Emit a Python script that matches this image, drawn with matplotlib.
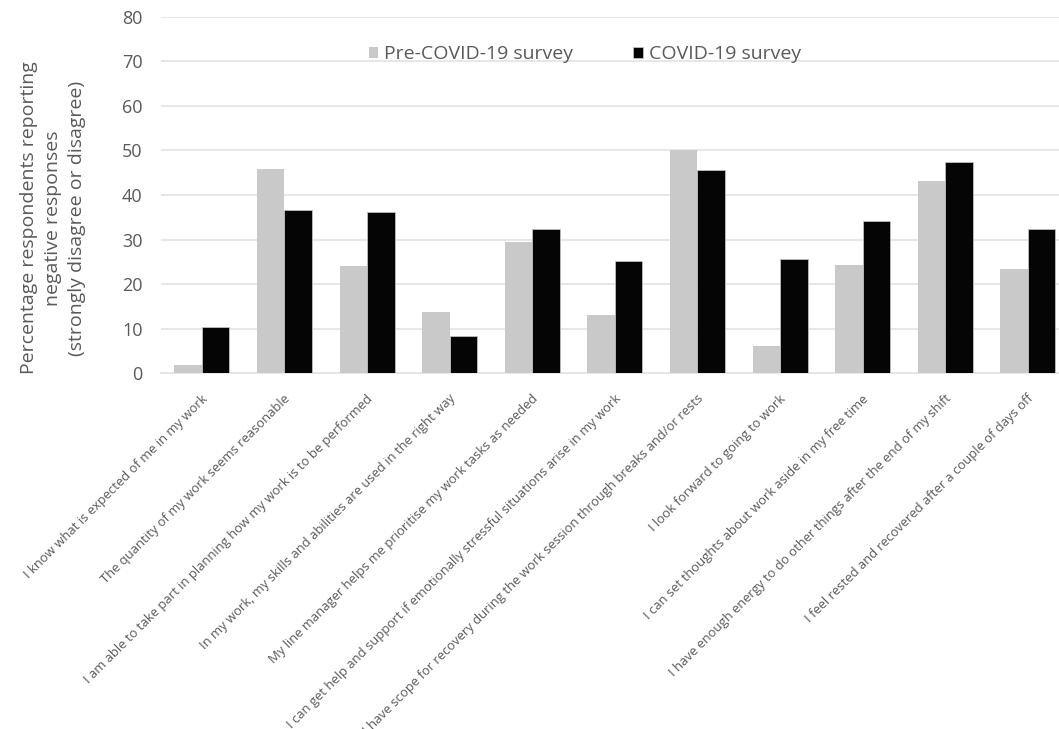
import numpy as np
import matplotlib
matplotlib.use("Agg")
import matplotlib.pyplot as plt
import matplotlib.transforms as mtransforms

plt.rcParams['font.family'] = ['Open Sans', 'DejaVu Sans']

statements = [
    "I know what is expected of me in my work",
    "The quantity of my work seems reasonable",
    "I am able to take part in planning how my work is to be performed",
    "In my work, my skills and abilities are used in the right way",
    "My line manager helps me prioritise my work tasks as needed",
    "I can get help and support if emotionally stressful situations arise in my work",
    "I have scope for recovery during the work session through breaks and/or rests",
    "I look forward to going to work",
    "I can set thoughts about work aside in my free time",
    "I have enough energy to do other things after the end of my shift",
    "I feel rested and recovered after a couple of days off",
]
pre_covid = [1.8, 45.9, 24.1, 13.7, 29.4, 13.1, 50.0, 6.1, 24.3, 43.2, 23.4]
covid = [10.3, 36.7, 36.2, 8.3, 32.3, 25.1, 45.6, 25.7, 34.2, 47.3, 32.3]

text_col = "#595959"
fig = plt.figure(figsize=(10.59, 7.29), dpi=100)
# plot area runs a little past the right edge of the canvas
ax = fig.add_axes([0.1516, 0.488, 0.858, 0.489])

x = np.arange(len(statements))
w = 0.333
ax.bar(x - w / 2, pre_covid, w, color="#c9c9c9", label="Pre-COVID-19 survey", zorder=3)
ax.bar(x + w / 2, covid, w, color="#050505", edgecolor="#bfbfbf", linewidth=0.6,
       label="COVID-19 survey", zorder=3)

ax.set_xlim(-0.5, len(statements) - 0.5)
ax.set_ylim(0, 80)
ax.set_yticks(range(0, 81, 10))
ax.grid(axis="y", color="#e3e3e3", linewidth=1.2, zorder=0)
for s in ["top", "right", "left"]:
    ax.spines[s].set_visible(False)
ax.spines["bottom"].set_color("#e3e3e3")
ax.spines["bottom"].set_linewidth(1.2)
ax.tick_params(axis="both", length=0, colors=text_col)
ax.tick_params(axis="y", labelsize=13, pad=13)

ax.set_xticks(x)
ax.set_xticklabels(statements, rotation=45, ha="right", va="center",
                   rotation_mode="anchor", fontsize=9.4, color=text_col)
ax.tick_params(axis="x", pad=17)
shift = mtransforms.ScaledTranslation(4 / 100, 0, fig.dpi_scale_trans)
for lab in ax.get_xticklabels():
    lab.set_transform(lab.get_transform() + shift)

# y axis title placed on the figure so it can sit a bit lower than the axes centre
fig.text(0.050, 0.701,
         "Percentage respondents reporting\nnegative responses\n(strongly disagree or disagree)",
         rotation=90, ha="center", va="center", fontsize=14, color=text_col,
         linespacing=1.45, multialignment="center")

leg = ax.legend(loc="upper center", bbox_to_anchor=(0.467, 0.97), ncol=2, frameon=False,
                fontsize=14, handlelength=0.5, handleheight=0.5, handletextpad=0.3,
                columnspacing=3.1)
for t in leg.get_texts():
    t.set_color(text_col)

plt.savefig("out.png", dpi=100)
